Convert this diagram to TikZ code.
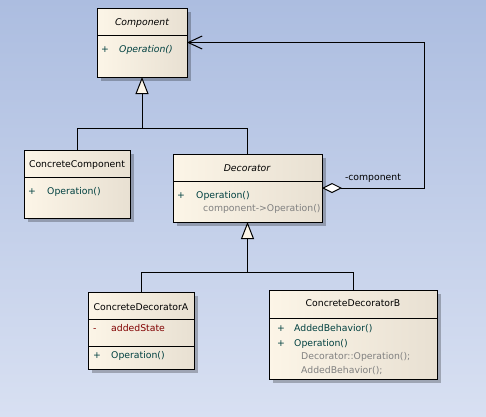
\documentclass[tikz,border=0pt]{standalone}
\usepackage{fontspec}
\setmainfont{DejaVu Sans}
\usetikzlibrary{arrows.meta,shadows}
\definecolor{bgtop}{RGB}{172,189,224}
\definecolor{bgbot}{RGB}{216,224,242}
\definecolor{boxl}{RGB}{252,245,231}
\definecolor{boxr}{RGB}{232,224,210}
\definecolor{optext}{RGB}{0,64,64}
\definecolor{attrtext}{RGB}{128,0,0}
\definecolor{codetext}{RGB}{128,128,128}
\newcommand\umlfont{\fontsize{9.3}{11}\selectfont}

\begin{document}
\begin{tikzpicture}[x=1pt,y=-1pt,line/.style={line width=1pt},umlclass/.style={draw, line width=1pt, left color=boxl, right color=boxr, inner sep=0pt, outer sep=0pt, anchor=north west, general shadow={fill=black, opacity=.25, shadow xshift=4pt, shadow yshift=-4pt}},title/.style={font=\umlfont, inner sep=0pt, text height=7pt, text depth=0pt},member/.style={font=\umlfont, inner sep=0pt, anchor=west, text height=7pt, text depth=0pt, text=optext},attr/.style={member, text=attrtext},code/.style={member, text=codetext},gen/.style={line, -{Triangle[fill=boxl, length=17pt, width=13pt]}},agg/.style={line, {Diamond[fill=white, length=20pt, width=10pt]}-{Straight Barb[length=14pt, width=13pt]}},role/.style={font=\umlfont, inner sep=0pt, text height=7pt, text depth=0pt}]
\fill[top color=bgtop, bottom color=bgbot] (0,0) rectangle (486,416);
% classes
\node[umlclass, minimum width=90pt, minimum height=69pt] (comp) at (97,8) {};
\node[umlclass, minimum width=106pt, minimum height=68pt] (cc) at (24,150) {};
\node[umlclass, minimum width=149pt, minimum height=68pt] (dec) at (173,154) {};
\node[umlclass, minimum width=106pt, minimum height=77pt] (cda) at (88,292) {};
\node[umlclass, minimum width=168pt, minimum height=89pt] (cdb) at (269,290) {};
\draw[line] (comp.west |- 0,35) -- (comp.east |- 0,35);
\draw[line] (cc.west |- 0,177) -- (cc.east |- 0,177);
\draw[line] (dec.west |- 0,181) -- (dec.east |- 0,181);
\draw[line] (cda.west |- 0,319) -- (cda.east |- 0,319); \draw[line] (cda.west |- 0,346) -- (cda.east |- 0,346);
\draw[line] (cdb.west |- 0,318) -- (cdb.east |- 0,318);
% texts
\node[title, font=\umlfont\itshape] (compname) at (142,22) {Component};
\node[member] (compvis) at (101,49) {+}; \node[member, font=\umlfont\itshape] (compop) at (119,49) {Operation()};
\node[title] (ccname) at (77,164) {ConcreteComponent};
\node[member] (ccvis) at (28,191) {+}; \node[member] (ccop) at (47,191) {Operation()};
\node[title, font=\umlfont\itshape] (decname) at (247,168) {Decorator};
\node[member] (decvis) at (177,195) {+}; \node[member] (decop) at (196,195) {Operation()};
\node[code] (decbody) at (203,208) {component->Operation()};
\node[title] (cdaname) at (141,307) {ConcreteDecoratorA};
\node[attr] (cdavis) at (93,328) {-}; \node[attr] (cdaattr) at (111,328) {addedState};
\node[member] (cdavis2) at (93,355) {+}; \node[member] (cdaop) at (111,355) {Operation()};
\node[title] (cdbname) at (353,303) {ConcreteDecoratorB};
\node[member] (cdbvis) at (277,328) {+}; \node[member] (cdbadd) at (294,328) {AddedBehavior()};
\node[member] (cdbvis2) at (277,343) {+}; \node[member] (cdbop) at (294,343) {Operation()};
\node[code] (cdbbody) at (301,356) {Decorator::Operation();};
\node[code] (cdbbody2) at (301,370) {AddedBehavior();};
% relations
\coordinate (hubA) at (comp.south |- 0,128); \coordinate (hubB) at (dec.south |- 0,272); \coordinate (loop) at (424,188);
\draw[gen] (cc.north) |- (hubA) -- (comp.south); \draw[line] (dec.north) |- (hubA);
\draw[gen] (cda.north) |- (hubB) -- (dec.south); \draw[line] (cdb.north) |- (hubB);
\draw[agg] (dec.east) -- node[role, above=7pt] (rolename) {-component} (loop) |- (comp.east);
\end{tikzpicture}
\end{document}
